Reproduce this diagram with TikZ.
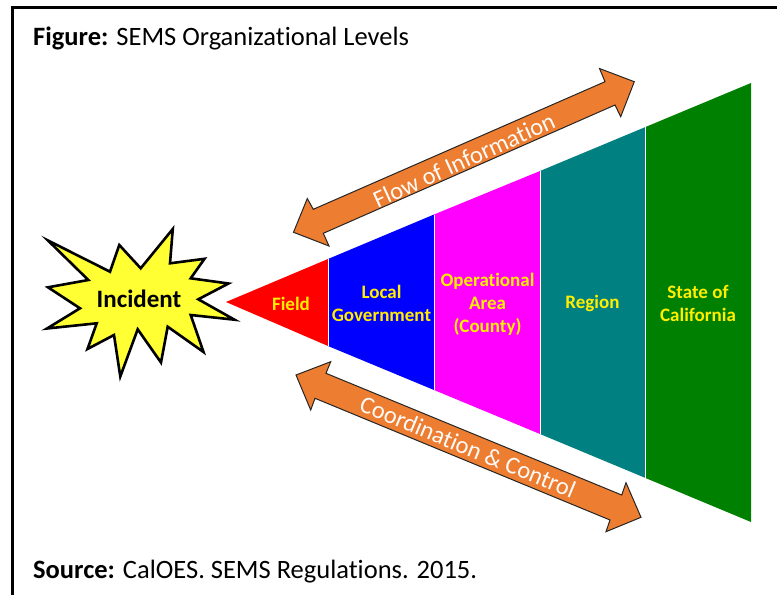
\documentclass[tikz,border=0pt]{standalone}
\usepackage{fontspec}
\setmainfont[Ligatures=CommonOff]{Carlito}
\definecolor{lvltext}{HTML}{FFEE00}
\definecolor{bandor}{HTML}{ED7D31}
\definecolor{magfill}{RGB}{255,0,255}
\definecolor{tealfill}{RGB}{0,128,128}
\definecolor{greenfill}{RGB}{0,128,0}
\definecolor{burst}{RGB}{255,255,51}
\tikzset{
  lvl/.style={text=lvltext,font=\fontsize{19}{23}\selectfont\bfseries,align=center,inner sep=0pt},
  band/.style={draw=black!85,line width=1pt,fill=bandor,line join=miter},
  bandtext/.style={text=white!96!bandor,font=\fontsize{24.5}{28}\selectfont,inner sep=0pt,anchor=center},
  caption/.style={font=\fontsize{26.5}{30}\selectfont,anchor=base west,inner sep=0pt}
}
\begin{document}
\begin{tikzpicture}[x=1pt,y=-1pt]
\useasboundingbox (0,0) rectangle (777,595);
\fill[white] (0,0) rectangle (777,595);
\draw[line width=2.6pt,line join=miter] (12.5,595) -- (12.5,7.5) -- (777,7.5);
\node[caption] (fig) at (33,45) {\textbf{Figure:} SEMS Organizational Levels};
\node[caption] (src) at (33,578) {\textbf{Source:} CalOES. SEMS Regulations. 2015.};
% wedge
\fill[red] (226,302) -- (328,259) -- (328,346) -- cycle;
\fill[blue] (328,259) -- (434,214.5) -- (434,390) -- (328,346) -- cycle;
\fill[magfill] (434,214.5) -- (540,171) -- (540,434) -- (434,390) -- cycle;
\fill[tealfill] (540,171) -- (645.5,127) -- (645.5,478) -- (540,434) -- cycle;
\fill[greenfill] (645.5,127) -- (751,83) -- (751,522) -- (645.5,478) -- cycle;
\draw[white,line width=1pt] (328,259) -- (328,346) (434,214.5) -- (434,390) (540,171) -- (540,434) (645.5,127) -- (645.5,478);
\node[lvl] (field) at (291,303.5) {Field};
\node[lvl] (local) at (381.5,303) {Local\\Government};
\node[lvl] (op) at (487.5,304) {Operational\\Area\\(County)};
\node[lvl] (region) at (592.5,303.5) {Region};
\node[lvl] (state) at (698,303) {State of\\California};
% burst
\draw[line width=2.6pt,fill=burst,line join=miter,miter limit=10]
 (48,240.5) -- (110,271.7) -- (119.3,245) -- (140.7,268.3) -- (172.8,229) -- (170,263.3) -- (204.5,258.8) -- (190.7,278.3) -- (228.5,283.5) -- (198.3,299.3) -- (234.5,319.7) -- (190.7,315) -- (203.5,352) -- (167.7,326.7) -- (161,362.5) -- (137.7,329.3) -- (120.3,376.5) -- (114,335) -- (87.5,349) -- (96.7,323.3) -- (47,328.5) -- (80,308.3) -- (48,287.3) -- (88.3,280) -- cycle;
\node[font=\fontsize{25}{29}\selectfont\bfseries,inner sep=0pt] (inc) at (139,298.5) {Incident};
% arrows
\draw[band] (293.5,232.3) -- (307.3,198.5) -- (313.3,209.3) -- (605,81.7) -- (599.5,68.5) -- (634.3,81.7) -- (620.7,116.7) -- (615,105) -- (323.3,233.3) -- (329,246) -- cycle;
\node[bandtext,rotate=24.5] (flow) at (464,160) {Flow of Information};
\draw[band] (296,375) -- (330.7,361.7) -- (326,373.3) -- (621.7,495) -- (626,482.7) -- (641,517.3) -- (606,531.7) -- (610,520) -- (315,398.3) -- (310.7,410) -- cycle;
\node[bandtext,rotate=-22.5] (coord) at (468,447) {Coordination \& Control};
\end{tikzpicture}
\end{document}
